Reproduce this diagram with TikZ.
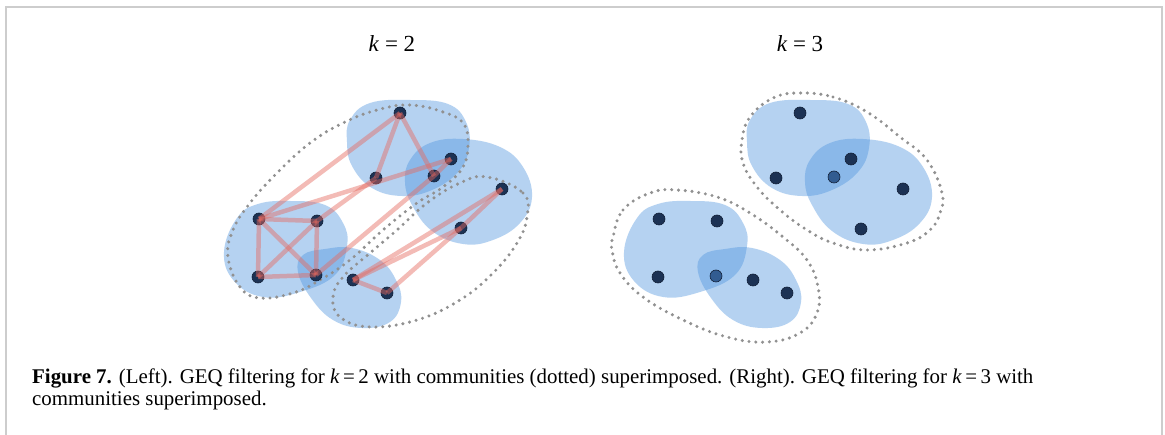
\documentclass[tikz,border=0pt]{standalone}
\usepackage{fontspec}
\setmainfont{Liberation Serif}
\definecolor{blobblue}{RGB}{77,148,223}
\definecolor{edgered}{RGB}{230,105,95}
\definecolor{vertnavy}{RGB}{28,50,84}
\definecolor{vertrim}{RGB}{18,32,56}
\definecolor{vertpale}{RGB}{50,92,145}
\definecolor{commgray}{RGB}{145,145,145}
\definecolor{framegray}{RGB}{205,205,205}
\tikzset{
  blob/.style={fill=blobblue, fill opacity=0.41, draw=none},
  community/.style={draw=commgray, line width=3.4pt, line cap=round,
    dash pattern=on 0pt off 6.8pt},
  vert/.style={circle, fill=vertnavy, draw=vertrim, line width=0.6pt,
    minimum size=12pt, inner sep=0pt},
  vertpale/.style={vert, fill=vertpale},
  link/.style={draw=edgered, line width=4.5pt, draw opacity=0.45},
  headtext/.style={font=\fontsize{23}{28}\selectfont, anchor=base, inner sep=0pt},
  captext/.style={font=\fontsize{20.9}{24}\selectfont, anchor=base west, inner sep=0pt},
}
\begin{document}
\begin{tikzpicture}[x=1pt,y=-1pt]
\useasboundingbox (0,0) rectangle (1165,435);
\fill[white] (0,0) rectangle (1165,435);

% page frame, open at the bottom
\draw[framegray, line width=2pt] (5.5,435) -- (5.5,7.5) -- (1162,7.5) -- (1162,435);

% headings
\node[headtext] (k2) at (392,52) {\textit{k} = 2};
\node[headtext] (k3) at (800,52) {\textit{k} = 3};

% overlapping GEQ groups, same layout in both panels
\foreach \s in {0,400}{
\begin{scope}[xshift=\s pt]
  \fill[blob] plot[smooth cycle, tension=0.7] coordinates {
    (350,120) (370,103) (410,100) (448,104) (466,122) (469,148)
    (458,172) (432,190) (402,196) (372,188) (352,166) (347,142)};
  \fill[blob] plot[smooth cycle, tension=0.7] coordinates {
    (410,160) (430,143) (463,139) (500,147) (523,167) (532,197)
    (520,223) (493,240) (463,244) (432,231) (412,205) (405,182)};
  \fill[blob] plot[smooth cycle, tension=0.7] coordinates {
    (237,218) (258,204) (290,201) (325,205) (343,223) (347,246)
    (335,275) (300,292) (263,297) (234,281) (224,252)};
  \fill[blob] plot[smooth cycle, tension=0.7] coordinates {
    (303,255) (325,249) (352,248) (380,260) (396,280) (401,302)
    (390,322) (362,328) (333,320) (311,298) (298,272)};
\end{scope}
}

% communities, left panel
\draw[community] plot[smooth cycle, tension=0.7] coordinates {
  (410,105) (443,112) (463,123) (468,143) (463,167) (443,187) (417,203)
  (383,230) (350,260) (320,280) (293,293) (260,298) (240,287) (228,257)
  (233,230) (250,203) (277,173) (310,143) (343,123) (377,110)};
\draw[community] plot[smooth cycle, tension=0.7] coordinates {
  (487,177) (523,193) (527,217) (517,243) (493,273) (460,300) (417,320)
  (370,327) (340,317) (333,297) (343,277) (370,253) (397,230) (427,203)
  (460,183)};

% communities, right panel
\draw[community] plot[smooth cycle, tension=0.7] coordinates {
  (800,93) (833,97) (867,112) (900,137) (927,160) (942,193) (940,213)
  (930,230) (907,243) (867,250) (833,243) (807,230) (780,210) (757,187)
  (743,163) (742,140) (750,117) (773,98)};
\draw[community] plot[smooth cycle, tension=0.7] coordinates {
  (613,237) (623,210) (650,193) (677,190) (717,197) (750,213) (783,237)
  (807,260) (818,287) (817,313) (800,333) (767,342) (727,337) (683,320)
  (643,297) (620,273) (612,250)};

% vertices, left panel
\node[vert] (A) at (400,113) {};
\node[vert] (B) at (376,178) {};
\node[vert] (C) at (434,176) {};
\node[vert] (D) at (451,159) {};
\node[vert] (E) at (502,189) {};
\node[vert] (F) at (461,228) {};
\node[vert] (G) at (259,219) {};
\node[vert] (H) at (317,221) {};
\node[vert] (I) at (258,277) {};
\node[vert] (J) at (316,275) {};
\node[vert] (K) at (353,280) {};
\node[vert] (L) at (387,293) {};

% edges, left panel
\foreach \u/\v in {A/B, A/C, A/G, D/C, G/D, B/H, C/J, G/H, G/I, G/J,
                   H/I, H/J, I/J, E/F, E/K, F/K, F/L, K/L}
  \draw[link] (\u.center) -- (\v.center);

% vertices, right panel
\node[vert] (a) at (800,113) {};
\node[vert] (b) at (776,178) {};
\node[vert] (c) at (851,159) {};
\node[vertpale] (d) at (834,177) {};
\node[vert] (e) at (903,189) {};
\node[vert] (f) at (861,229) {};
\node[vert] (g) at (659,219) {};
\node[vert] (h) at (717,221) {};
\node[vert] (i) at (658,277) {};
\node[vertpale] (j) at (716,276) {};
\node[vert] (k) at (753,280) {};
\node[vert] (l) at (787,293) {};

% caption
\node[captext] (cap1) at (32,384) {\textbf{Figure 7.} (Left). GEQ filtering for \textit{k}\,=\,2 with communities (dotted) superimposed. (Right). GEQ filtering for \textit{k}\,=\,3 with};
\node[captext] (cap2) at (32,406) {communities superimposed.};
\end{tikzpicture}
\end{document}
